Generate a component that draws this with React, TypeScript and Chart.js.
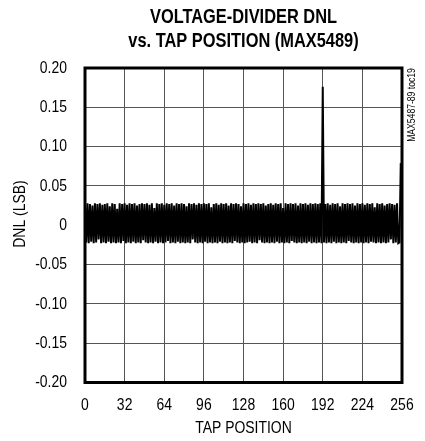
import React, { useEffect, useRef } from "react";
import { Chart, registerables } from "chart.js";

Chart.register(...registerables);

const titleLines = ["VOLTAGE-DIVIDER DNL", "vs. TAP POSITION (MAX5489)"];
const xTitle = "TAP POSITION";
const yTitle = "DNL (LSB)";
const sideNote = "MAX5487-89 toc19";

const xMin = 0;
const xMax = 256;
const xStep = 32;
const yMin = -0.2;
const yMax = 0.2;
const yStep = 0.05;

// DNL (LSB) for each tap position 0..255
const dnlValues: number[] = [
  0.026, -0.022, 0.028, -0.023, 0.027, -0.021, 0.025, -0.023, 0.028, -0.022, 0.027, -0.018, 0.028, -0.023, 0.026, -0.022,
  0.027, -0.023, 0.028, -0.021, 0.024, -0.023, 0.028, -0.022, 0.027, -0.023, 0.021, -0.022, 0.028, -0.023, 0.027, -0.020,
  0.028, -0.023, 0.026, -0.022, 0.028, -0.023, 0.027, -0.021, 0.028, -0.023, 0.025, -0.022, 0.027, -0.023, 0.028, -0.019,
  0.027, -0.022, 0.028, -0.023, 0.026, -0.022, 0.028, -0.023, 0.022, -0.021, 0.028, -0.023, 0.027, -0.022, 0.028, -0.023,
  0.026, -0.022, 0.028, -0.020, 0.027, -0.023, 0.028, -0.022, 0.025, -0.023, 0.028, -0.021, 0.027, -0.023, 0.028, -0.022,
  0.027, -0.023, 0.024, -0.022, 0.028, -0.023, 0.027, -0.018, 0.028, -0.022, 0.026, -0.023, 0.028, -0.022, 0.027, -0.023,
  0.028, -0.021, 0.027, -0.023, 0.028, -0.022, 0.023, -0.023, 0.027, -0.022, 0.028, -0.023, 0.026, -0.021, 0.028, -0.023,
  0.027, -0.022, 0.028, -0.023, 0.025, -0.022, 0.028, -0.023, 0.027, -0.020, 0.028, -0.022, 0.027, -0.023, 0.024, -0.022,
  0.028, -0.023, 0.027, -0.022, 0.028, -0.021, 0.026, -0.023, 0.028, -0.022, 0.027, -0.023, 0.028, -0.019, 0.027, -0.022,
  0.028, -0.023, 0.025, -0.022, 0.027, -0.023, 0.028, -0.022, 0.026, -0.023, 0.028, -0.021, 0.027, -0.023, 0.028, -0.022,
  0.022, -0.023, 0.028, -0.022, 0.027, -0.023, 0.028, -0.020, 0.027, -0.022, 0.028, -0.023, 0.025, -0.022, 0.028, -0.023,
  0.027, -0.022, 0.028, -0.023, 0.026, -0.021, 0.028, -0.023, 0.027, -0.022, 0.028, -0.023, 0.027, -0.022, 0.028, -0.023,
  0.176, -0.022, 0.027, -0.023, 0.028, -0.022, 0.026, -0.023, 0.028, -0.021, 0.027, -0.023, 0.028, -0.022, 0.024, -0.023,
  0.028, -0.022, 0.027, -0.023, 0.028, -0.020, 0.027, -0.022, 0.028, -0.023, 0.025, -0.022, 0.028, -0.023, 0.027, -0.022,
  0.028, -0.023, 0.026, -0.022, 0.028, -0.023, 0.027, -0.021, 0.028, -0.022, 0.023, -0.023, 0.028, -0.022, 0.027, -0.023,
  0.028, -0.022, 0.025, -0.023, 0.027, -0.022, 0.028, -0.018, 0.027, -0.023, 0.026, -0.022, 0.028, -0.023, -0.022, 0.079,
];

const FONT = "'Liberation Sans', Arial, sans-serif";
const NARROW = 0.82; // horizontal compression to mimic a narrow sans face

function makeNarrow(ctx: CanvasRenderingContext2D) {
  const anyCtx = ctx as any;
  if (anyCtx.__narrow) return;
  anyCtx.__narrow = true;
  const origFill = ctx.fillText.bind(ctx);
  const origMeasure = ctx.measureText.bind(ctx);
  anyCtx.fillText = (text: string, x: number, y: number, maxWidth?: number) => {
    ctx.save();
    ctx.translate(x, y);
    ctx.scale(NARROW, 1);
    if (maxWidth !== undefined) origFill(text, 0, 0, maxWidth / NARROW);
    else origFill(text, 0, 0);
    ctx.restore();
  };
  anyCtx.measureText = (text: string) => {
    const m = origMeasure(text);
    return {
      width: m.width * NARROW,
      actualBoundingBoxAscent: m.actualBoundingBoxAscent,
      actualBoundingBoxDescent: m.actualBoundingBoxDescent,
      actualBoundingBoxLeft: m.actualBoundingBoxLeft * NARROW,
      actualBoundingBoxRight: m.actualBoundingBoxRight * NARROW,
      fontBoundingBoxAscent: (m as any).fontBoundingBoxAscent,
      fontBoundingBoxDescent: (m as any).fontBoundingBoxDescent,
    };
  };
}

const framePlugin = {
  id: "frame",
  afterDatasetsDraw(chart: any) {
    const { ctx, chartArea } = chart;
    ctx.save();
    ctx.strokeStyle = "#000";
    ctx.lineWidth = 3;
    ctx.strokeRect(chartArea.left, chartArea.top, chartArea.right - chartArea.left, chartArea.bottom - chartArea.top);
    ctx.restore();
  },
  afterDraw(chart: any) {
    const { ctx, chartArea } = chart;
    const cx = (chartArea.left + chartArea.right) / 2;
    ctx.save();
    ctx.fillStyle = "#000";
    ctx.font = `bold 20px ${FONT}`;
    ctx.textAlign = "center";
    ctx.textBaseline = "middle";
    ctx.fillText(titleLines[0], cx, 17);
    ctx.fillText(titleLines[1], cx, 41.5);
    ctx.restore();

    ctx.save();
    ctx.fillStyle = "#000";
    ctx.font = `17px ${FONT}`;
    ctx.textAlign = "center";
    ctx.textBaseline = "middle";
    ctx.translate(20, 214);
    ctx.rotate(-Math.PI / 2);
    ctx.fillText(yTitle, 0, 0);
    ctx.restore();

    ctx.save();
    ctx.fillStyle = "#000";
    ctx.font = `10.5px ${FONT}`;
    ctx.textAlign = "center";
    ctx.textBaseline = "middle";
    ctx.translate(chartArea.right + 10.5, 105);
    ctx.rotate(-Math.PI / 2);
    ctx.fillText(sideNote, 0, 0);
    ctx.restore();
  },
};

export default function App() {
  const ref = useRef<HTMLCanvasElement | null>(null);
  useEffect(() => {
    if (!ref.current) return;
    const c2d = ref.current.getContext("2d");
    if (c2d) makeNarrow(c2d);
    const points = dnlValues.map((y, i) => ({ x: i, y }));
    const chart = new Chart(ref.current, {
      type: "line",
      data: {
        datasets: [
          {
            data: points,
            borderColor: "#000",
            borderWidth: 2,
            pointRadius: 0,
            fill: false,
            tension: 0,
          },
        ],
      },
      options: {
        animation: false,
        responsive: true,
        maintainAspectRatio: false,
        layout: { padding: { left: 0, right: 23, top: 68, bottom: 0 } },
        plugins: {
          legend: { display: false },
          tooltip: { enabled: false },
          title: { display: false },
        },
        scales: {
          x: {
            type: "linear",
            min: xMin,
            max: xMax,
            afterFit(scale: any) {
              scale.height = 58.5;
              scale.paddingLeft = 0;
              scale.paddingRight = 0;
            },
            ticks: {
              stepSize: xStep,
              color: "#000",
              font: { family: FONT, size: 17 },
              padding: 13,
              maxRotation: 0,
            },
            grid: { color: "#555", lineWidth: 1, drawTicks: false },
            border: { display: false },
            title: {
              display: true,
              text: xTitle,
              color: "#000",
              font: { family: FONT, size: 17 },
              padding: { top: 0, bottom: 2 },
            },
          },
          y: {
            type: "linear",
            min: yMin,
            max: yMax,
            afterFit(scale: any) {
              scale.width = 85;
              scale.paddingTop = 0;
              scale.paddingBottom = 0;
            },
            ticks: {
              stepSize: yStep,
              color: "#000",
              font: { family: FONT, size: 17 },
              padding: 18,
              callback: (v: any) => (Math.abs(Number(v)) < 1e-9 ? "0" : Number(v).toFixed(2)),
            },
            grid: { color: "#555", lineWidth: 1, drawTicks: false },
            border: { display: false },
            title: { display: false },
          },
        },
      },
      plugins: [framePlugin],
    });
    return () => chart.destroy();
  }, []);
  return (
    <div style={{ position: "absolute", left: 0, top: 0, width: 425, height: 441, background: "#fff" }}>
      <canvas ref={ref} />
    </div>
  );
}
